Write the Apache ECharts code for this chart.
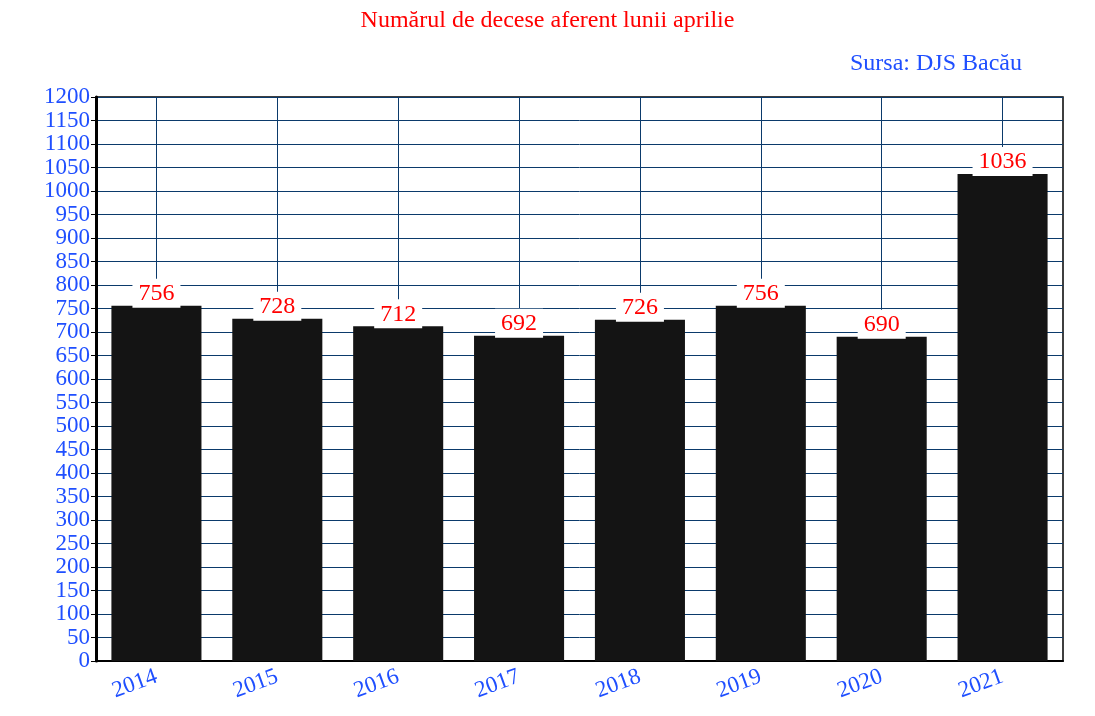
<!DOCTYPE html>
<html>
<head>
<meta charset="utf-8">
<title>Decese aprilie</title>
<script src="https://cdn.jsdelivr.net/npm/echarts@6/dist/echarts.min.js"></script>
<style>
  html, body { margin: 0; padding: 0; background: #fff; }
  #chart { width: 1095px; height: 716px; }
</style>
</head>
<body>
<div id="chart"></div>
<script>
// date grafic
const years = ['2014', '2015', '2016', '2017', '2018', '2019', '2020', '2021'];
const deaths = [756, 728, 712, 692, 726, 756, 690, 1036];

const serif = '"Liberation Serif", "DejaVu Serif", serif';
const blue = '#1f4fff';

const chart = echarts.init(document.getElementById('chart'));
chart.setOption({
  animation: false,
  title: [
    {
      text: 'Numărul de decese aferent lunii aprilie',
      left: 'center',
      top: 4,
      textStyle: { color: '#ff0000', fontFamily: serif, fontWeight: 'normal', fontSize: 24 }
    },
    {
      text: 'Sursa: DJS Bacău',
      right: 68,
      top: 47,
      textStyle: { color: blue, fontFamily: serif, fontWeight: 'normal', fontSize: 24 }
    }
  ],
  grid: {
    left: 96, right: 32, top: 97, bottom: 55,
    show: true, borderColor: '#000', borderWidth: 1.5
  },
  xAxis: {
    type: 'category',
    data: years,
    axisLine: { lineStyle: { color: '#000', width: 2 } },
    axisTick: { alignWithLabel: true, length: 5, lineStyle: { color: '#000' } },
    axisLabel: {
      color: blue, fontFamily: serif, fontSize: 23, rotate: 20, margin: 15
    },
    splitLine: { show: true, alignWithLabel: true, lineStyle: { color: '#0b3a6b', width: 1 } }
  },
  yAxis: {
    type: 'value',
    min: 0,
    max: 1200,
    interval: 50,
    axisLine: { show: true, lineStyle: { color: '#000', width: 3 } },
    axisTick: { show: true, length: 5, lineStyle: { color: '#000' } },
    axisLabel: { color: blue, fontFamily: serif, fontSize: 23, margin: 6, formatter: v => String(v) },
    splitLine: { lineStyle: { color: '#0b3a6b', width: 1 } }
  },
  series: [{
    type: 'bar',
    data: deaths,
    barWidth: '74.5%',
    itemStyle: { color: '#141414' },
    label: {
      show: true,
      position: 'top',
      distance: -2,
      color: '#ff0000',
      fontFamily: serif,
      fontSize: 24,
      backgroundColor: '#fff',
      padding: [3, 6, 2, 6]
    },
    z: 3
  }]
});
</script>
</body>
</html>
